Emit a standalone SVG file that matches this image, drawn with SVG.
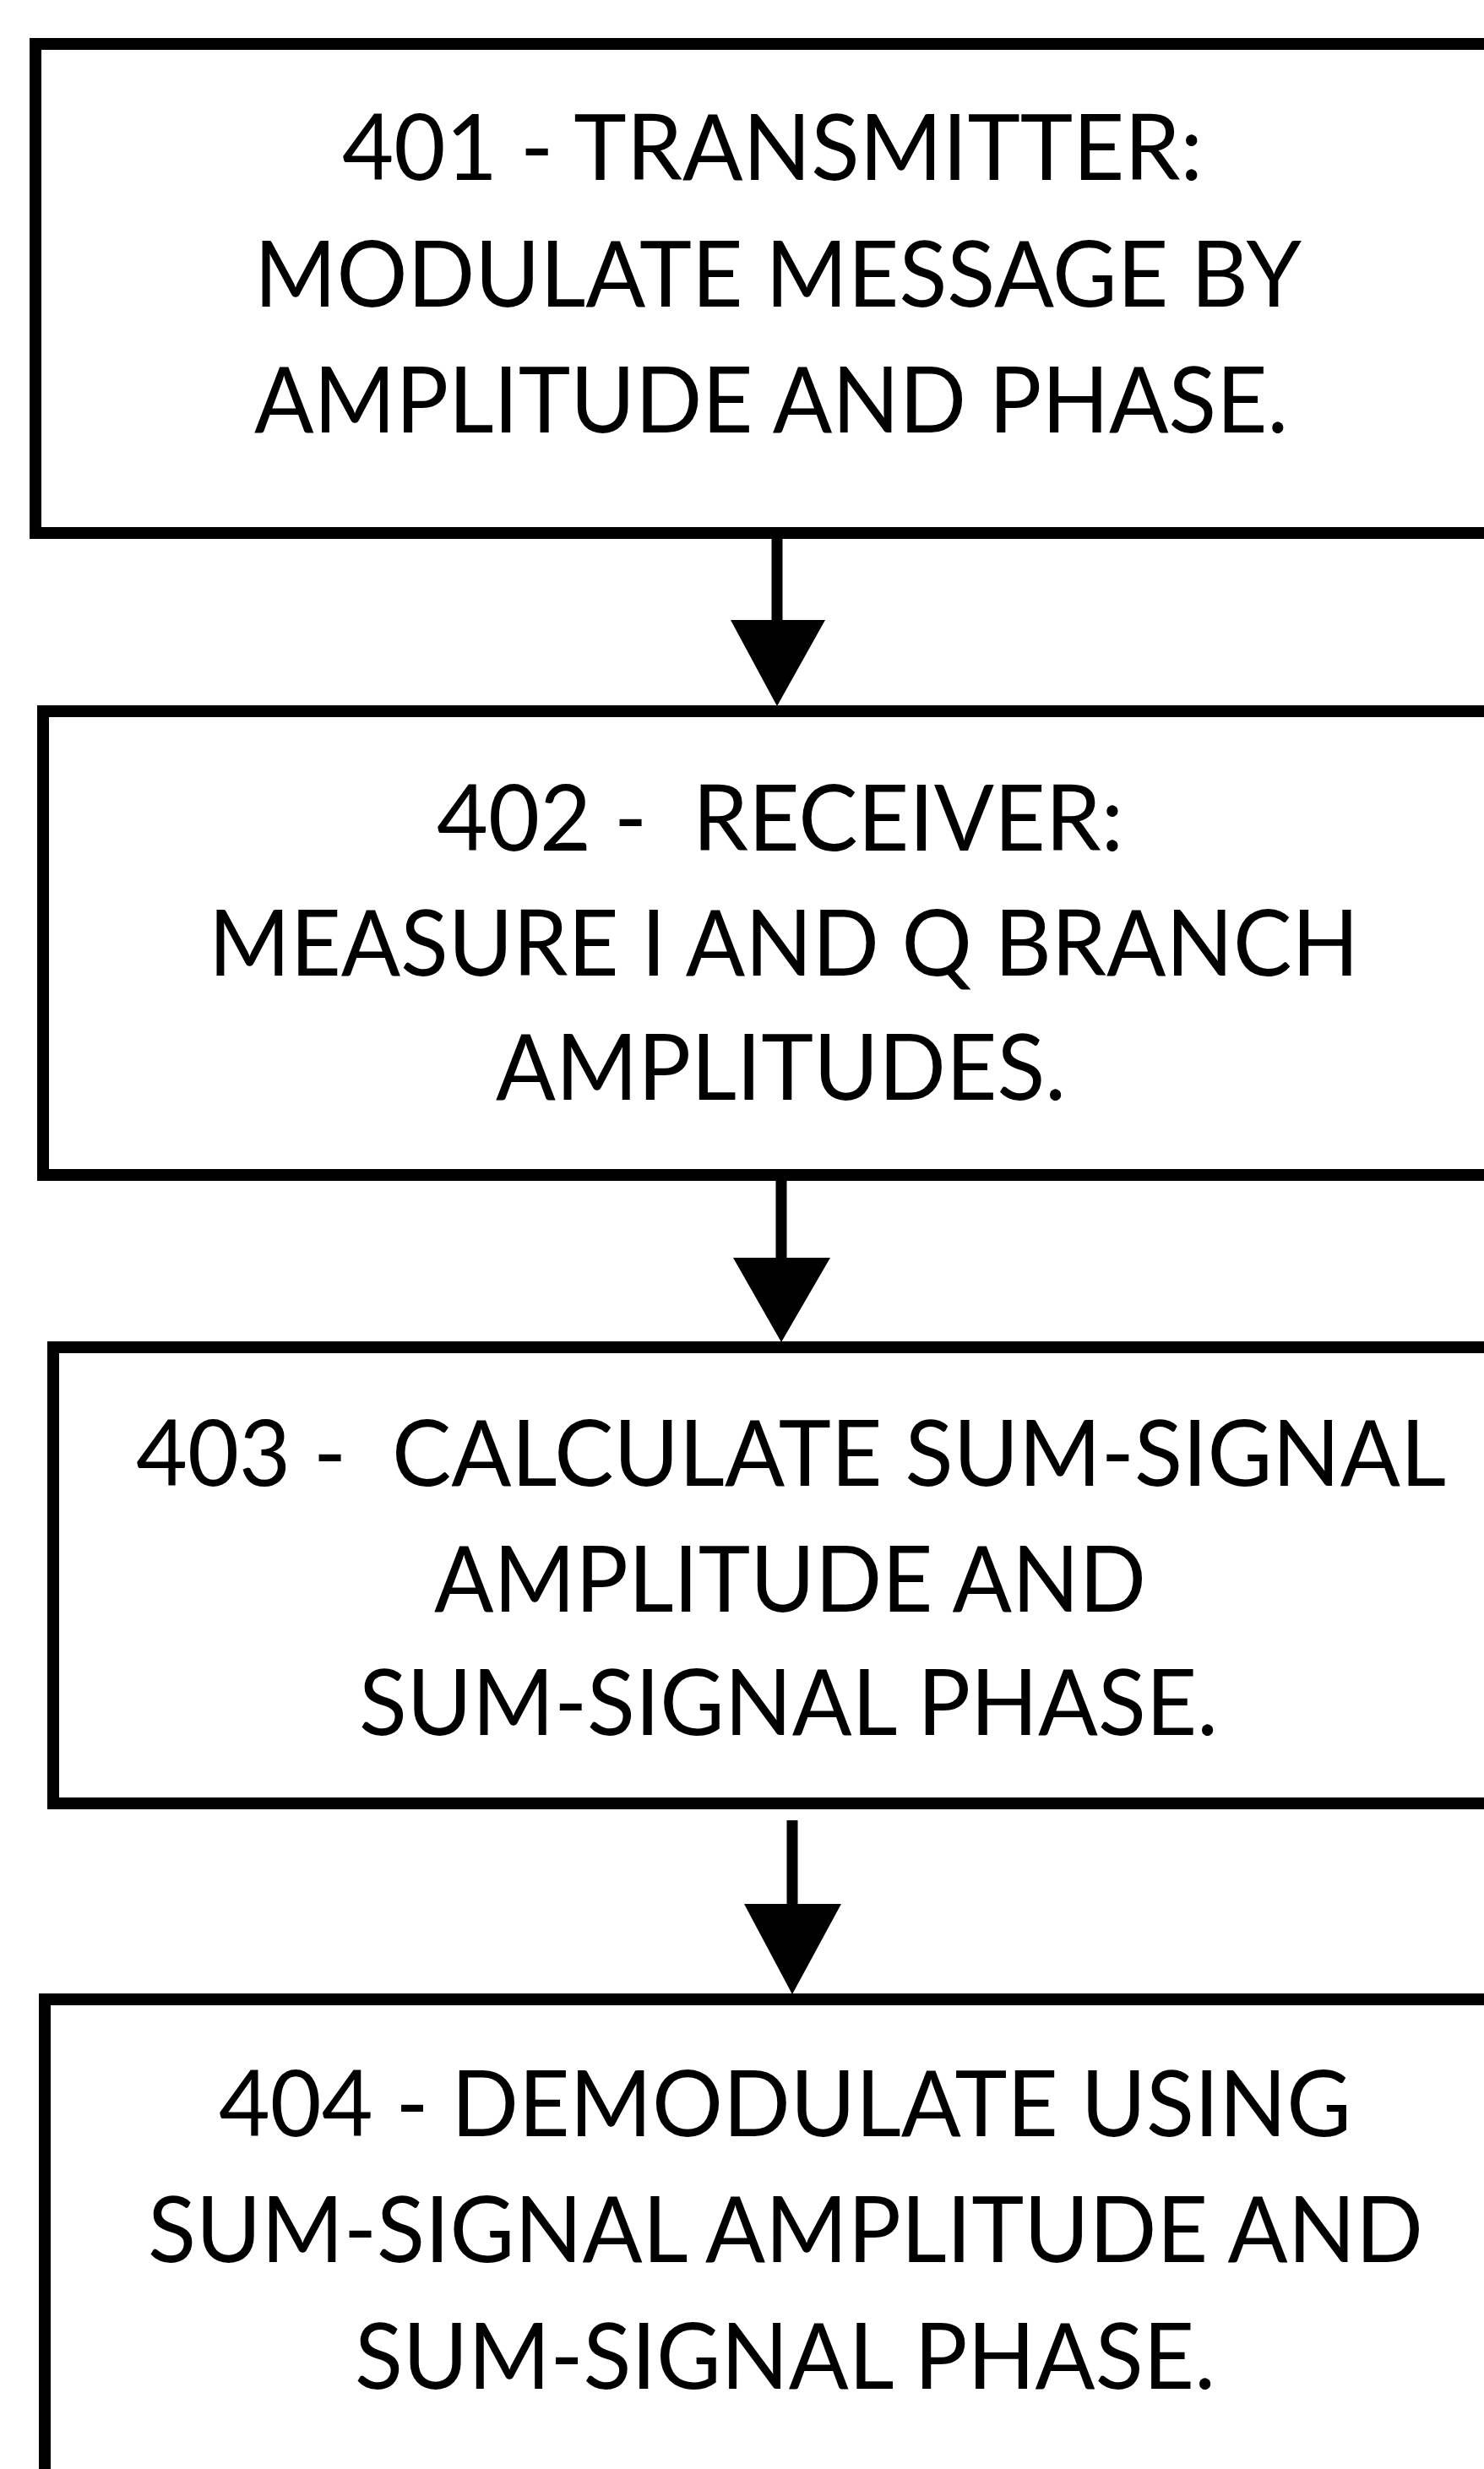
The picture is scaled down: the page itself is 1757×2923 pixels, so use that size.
<svg xmlns="http://www.w3.org/2000/svg" width="1757" height="2923" viewBox="0 0 1757 2923">
<style>
.box{fill:#fff;stroke:#000;stroke-width:14}
.t{font-family:Lato,"Open Sans","Liberation Sans",sans-serif;font-size:108px;fill:#000;white-space:pre}
.shaft{stroke:#000;stroke-width:13;fill:none}
.head{fill:#000}
</style>
<rect x="0" y="0" width="1757" height="2923" fill="#fff"/>
<g id="node401">
<rect class="box" x="42" y="52" width="1740" height="579"/>
<text class="t" x="405" y="213" textLength="1019" lengthAdjust="spacingAndGlyphs">401 - TRANSMITTER:</text>
<text class="t" x="301" y="363" textLength="1240" lengthAdjust="spacingAndGlyphs">MODULATE MESSAGE BY</text>
<text class="t" x="301" y="512" textLength="1224" lengthAdjust="spacingAndGlyphs">AMPLITUDE AND PHASE.</text>
</g>
<g id="node402">
<rect class="box" x="51" y="842" width="1740" height="549"/>
<text class="t" x="517" y="1007" textLength="813" lengthAdjust="spacingAndGlyphs">402 -  RECEIVER:</text>
<text class="t" x="247" y="1155" textLength="1362" lengthAdjust="spacingAndGlyphs">MEASURE I AND Q BRANCH</text>
<text class="t" x="587" y="1302" textLength="675" lengthAdjust="spacingAndGlyphs">AMPLITUDES.</text>
</g>
<g id="node403">
<rect class="box" x="63" y="1595" width="1740" height="540"/>
<text class="t" x="161" y="1759" textLength="1551" lengthAdjust="spacingAndGlyphs">403 -  CALCULATE SUM-SIGNAL</text>
<text class="t" x="514" y="1908" textLength="843" lengthAdjust="spacingAndGlyphs">AMPLITUDE AND</text>
<text class="t" x="425" y="2054" textLength="1017" lengthAdjust="spacingAndGlyphs">SUM-SIGNAL PHASE.</text>
</g>
<g id="node404">
<rect class="box" x="53" y="2367" width="1740" height="600"/>
<text class="t" x="259" y="2529" textLength="1341" lengthAdjust="spacingAndGlyphs">404 - DEMODULATE USING</text>
<text class="t" x="175" y="2678" textLength="1510" lengthAdjust="spacingAndGlyphs">SUM-SIGNAL AMPLITUDE AND</text>
<text class="t" x="420" y="2828" textLength="1019" lengthAdjust="spacingAndGlyphs">SUM-SIGNAL PHASE.</text>
</g>
<g id="connectors">
<line class="shaft" x1="920" y1="631" x2="920" y2="736"/>
<polygon class="head" points="865,734 977,734 920,836"/>
<line class="shaft" x1="925" y1="1391" x2="925" y2="1491"/>
<polygon class="head" points="868,1489 983,1489 925,1589"/>
<line class="shaft" x1="938" y1="2155" x2="938" y2="2256"/>
<polygon class="head" points="881,2254 996,2254 938,2361"/>
</g>
</svg>
